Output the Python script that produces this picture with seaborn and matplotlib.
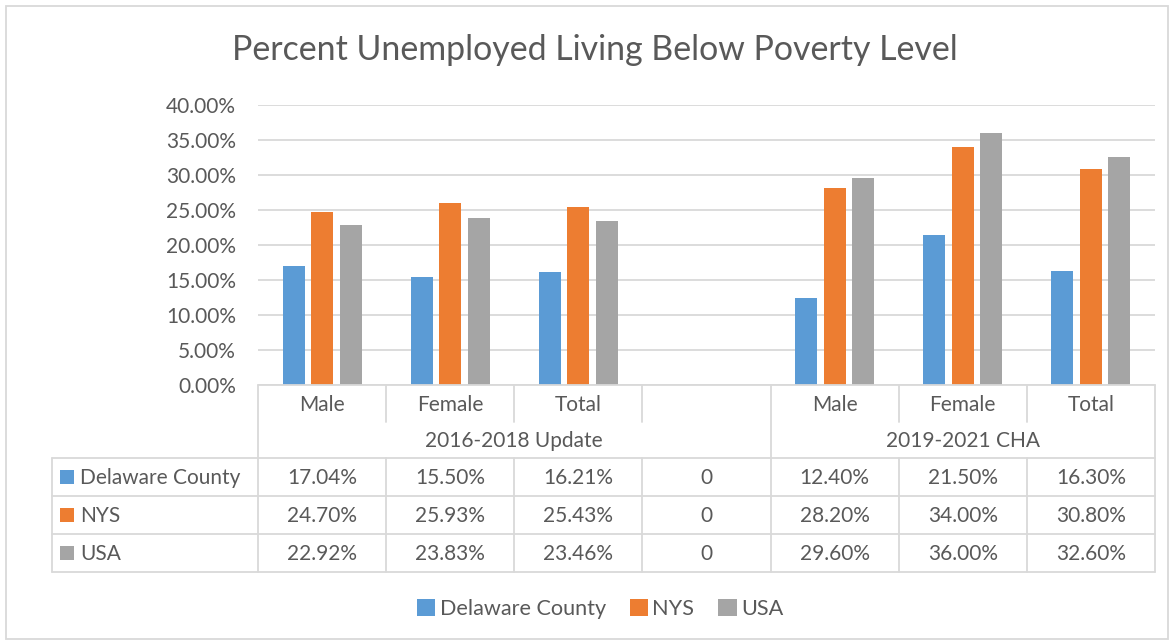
import matplotlib
matplotlib.use("Agg")
import matplotlib.pyplot as plt
import matplotlib.transforms as mtransforms
from matplotlib.patches import Rectangle, Patch
from matplotlib.lines import Line2D
import seaborn as sns
import pandas as pd

# ---- data ----
title = "Percent Unemployed Living Below Poverty Level"
categories = ["Male", "Female", "Total", "", "Male", "Female", "Total"]
groups = ["2016-2018 Update", "2019-2021 CHA"]
group_spans = [(0, 3), (4, 6)]
series_names = ["Delaware County", "NYS", "USA"]
delaware = [17.04, 15.50, 16.21, 0, 12.40, 21.50, 16.30]
nys = [24.70, 25.93, 25.43, 0, 28.20, 34.00, 30.80]
usa = [22.92, 23.83, 23.46, 0, 29.60, 36.00, 32.60]
yticks = [0, 5, 10, 15, 20, 25, 30, 35, 40]

colors = ["#5B9BD5", "#ED7D31", "#A5A5A5"]
text_c = "#595959"
grid_c = "#D9D9D9"

values = [delaware, nys, usa]
rows = []
for name, vals in zip(series_names, values):
    for i, v in enumerate(vals):
        rows.append({"slot": i, "series": name, "value": v})
df = pd.DataFrame(rows)

sns.set_theme(style="white")
plt.rcParams["font.family"] = ["Lato", "DejaVu Sans"]

W, H = 1175, 644
fig = plt.figure(figsize=(W / 100, H / 100), dpi=100)

def fx(px):
    return px / W

def fy(py):
    return 1 - py / H

ax_l, ax_r, ax_t, ax_b = 258, 1155, 105, 385
ax = fig.add_axes([fx(ax_l), fy(ax_b), fx(ax_r - ax_l), (ax_b - ax_t) / H])

sns.barplot(data=df, x="slot", y="value", hue="series", hue_order=series_names,
            palette=colors, width=0.667, gap=0.23, ax=ax, legend=False,
            saturation=1, linewidth=0)

ax.set_xlim(-0.5, len(categories) - 0.5)
ax.set_ylim(0, 40)
ax.set_yticks(yticks)
ax.set_yticklabels([f"{v:.2f}%" for v in yticks], color=text_c, fontsize=15)
ax.tick_params(axis="y", length=0, pad=16)
ax.set_xticks([])
ax.set_xlabel("")
ax.set_ylabel("")
for s in ax.spines.values():
    s.set_visible(False)
ax.grid(axis="y", color=grid_c, linewidth=1.3)
ax.set_axisbelow(True)

# ---- data table ----
tr = mtransforms.blended_transform_factory(ax.transData, fig.transFigure)
lw = 1.3
n = len(categories)
y_top, y_cat, y_grp = 385, 422, 458
row_bounds = [458, 496, 534, 572]
x_left_px = 52

def hline(x0, x1, py, transform):
    fig.add_artist(Line2D([x0, x1], [fy(py), fy(py)], transform=transform,
                          color=grid_c, linewidth=lw))

def vline(x, py0, py1, transform):
    fig.add_artist(Line2D([x, x], [fy(py0), fy(py1)], transform=transform,
                          color=grid_c, linewidth=lw))

# top line (axis)
hline(-0.5, n - 0.5, y_top, tr)
# series rows
for py in row_bounds:
    fig.add_artist(Line2D([fx(x_left_px), fx(ax_r)], [fy(py), fy(py)],
                          transform=fig.transFigure, color=grid_c, linewidth=lw))
vline(fx(x_left_px), row_bounds[0], row_bounds[-1], fig.transFigure)
# vertical boundaries
group_edges = {-0.5, n - 0.5}
for a, b in group_spans:
    group_edges.add(a - 0.5)
    group_edges.add(b + 0.5)
for k in range(n + 1):
    xb = k - 0.5
    if xb in group_edges:
        vline(xb, y_top, row_bounds[-1], tr)
    else:
        vline(xb, y_top, y_cat, tr)
        vline(xb, row_bounds[0], row_bounds[-1], tr)

fs = 15
for i, c in enumerate(categories):
    fig.text(i, fy((y_top + y_cat) / 2 + 1.5), c, transform=tr, ha="center",
             va="center", color=text_c, fontsize=fs)
for g, (a, b) in zip(groups, group_spans):
    fig.text((a + b) / 2, fy((y_cat + y_grp) / 2 + 1), g, transform=tr,
             ha="center", va="center", color=text_c, fontsize=fs)
for r, (name, vals, col) in enumerate(zip(series_names, values, colors)):
    yc = (row_bounds[r] + row_bounds[r + 1]) / 2
    fig.add_artist(Rectangle((fx(60), fy(yc + 7)), fx(14), 14 / H,
                             transform=fig.transFigure, color=col, linewidth=0))
    fig.text(fx(80), fy(yc + 1), name, ha="left", va="center",
             color=text_c, fontsize=fs)
    for i, v in enumerate(vals):
        label = "0" if v == 0 else f"{v:.2f}%"
        fig.text(i, fy(yc + 1), label, transform=tr, ha="center", va="center",
                 color=text_c, fontsize=fs)

# ---- title ----
fig.text(fx(595), fy(50), title, ha="center", va="center", color=text_c,
         fontsize=24.4)

# ---- legend ----
handles = [Patch(facecolor=c, edgecolor="none", label=nm)
           for c, nm in zip(colors, series_names)]
fig.legend(handles=handles, loc="center", bbox_to_anchor=(fx(600), fy(609)),
           ncol=3, frameon=False, fontsize=15.6, labelcolor=text_c,
           handlelength=0.85, handleheight=0.85, handletextpad=0.2,
           columnspacing=1.1)

# ---- outer border ----
fig.add_artist(Rectangle((fx(6), fy(639)), fx(1162), 633 / H,
                         transform=fig.transFigure, fill=False,
                         edgecolor=grid_c, linewidth=1.3))

fig.savefig("out.png", dpi=100)
